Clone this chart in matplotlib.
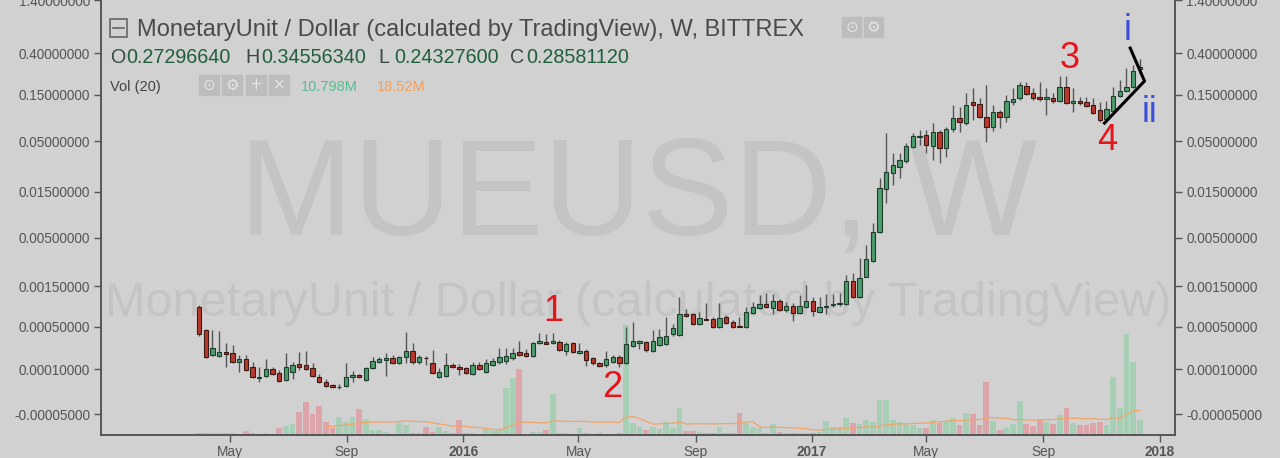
import numpy as np
import pandas as pd
import matplotlib
matplotlib.use('Agg')
import matplotlib.pyplot as plt
import matplotlib.dates as mdates
from matplotlib.patches import Rectangle
from matplotlib.ticker import NullLocator

# Weekly MUE/USD candles (Bittrex), first week starting 2015-03-30
first_week = '2015-03-30'

opens = [
    .000868, .000450, .000192, .000184, .000215, .000207, .000143, .000163, .000112, .000057,
    .000066, .000101, .000080, .000048, .000085, .000130, .000124, .000107, .000061, .000040,
    .000028, .000020, .000025, .000061, .000071, .000048, .000107, .000143, .000156, .000170,
    .000136, .000177, .000223, .000143, .000172, .000136, .000061, .000066, .000124, .000112,
    .000107, .000075, .000124, .000085, .000124, .000143, .000149, .000170, .000215, .000207,
    .000184, .000297, .000307, .000297, .000307, .000223, .000297, .000207, .000223, .000170,
    .000136, .000124, .000143, .000177, .000136, .000268, .000297, .000307, .000223, .000277,
    .000287, .000398, .000385, .000716, .000716, .000538, .000631, .000622, .000492, .000658,
    .000570, .000515, .000492, .000736, .000845, .000941, .000845, .001020, .000800, .000892,
    .000736, .000868, .001020, .000757, .000880, .000928, .000954, .000941, .001713, .001134,
    .001896, .002826, .005725, .01603, .02344, .02703, .03116, .04341, .05502, .05767,
    .04445, .0619, .0424, .06645, .0863, .0766, .1259, .1200, .0884, .0698,
    .0994, .0884, .1259, .1384, .1836, .1557, .1417, .1351, .1384, .1289,
    .1794, .1229, .1289, .1259, .1172, .1042, .0843, .1018, .1451, .1632,
    .1794, .2729664,
]
highs = [
    .000916, .000460, .000450, .000436, .000297, .000277, .000192, .000192, .000143, .000112,
    .000163, .000112, .000096, .000207, .000143, .000215, .000223, .000136, .000075, .000053,
    .000032, .000032, .000136, .000090, .000075, .000112, .000177, .000177, .000207, .000192,
    .000184, .000423, .000297, .000192, .000184, .000232, .000107, .000207, .000136, .000130,
    .000112, .000143, .000143, .000163, .000170, .000249, .000249, .000249, .000317, .000240,
    .000307, .000410, .000398, .000410, .000328, .000307, .000307, .000297, .000240, .000177,
    .000143, .000223, .000192, .000192, .000492, .000570, .000328, .000317, .000450, .000464,
    .000658, .000538, .001134, .000822, .000736, .000757, .000967, .000658, .000967, .000696,
    .000604, .000658, .000868, .000993, .001195, .001259, .001227, .001076, .000993, .000967,
    .001195, .001547, .001134, .001134, .001227, .001227, .001259, .001993, .002096, .003043,
    .004182, .007110, .02082, .0605, .03766, .03766, .04772, .06047, .0649, .0649,
    .07657, .0649, .06967, .1172, .1118, .1557, .1752, .1384, .188, .1172,
    .1042, .1485, .1752, .2018, .2018, .1752, .2018, .1752, .1557, .2325,
    .2325, .1752, .1417, .1417, .1384, .1259, .1289, .1794, .2115, .2808,
    .30, .3455634,
]
lows = [
    .000373, .000170, .000184, .000177, .000112, .000136, .000085, .000090, .000057, .000040,
    .000061, .000071, .000040, .000044, .000053, .000096, .000096, .000061, .000036, .000021,
    .000018, .000014, .000021, .000040, .000057, .000044, .000101, .000136, .000066, .000130,
    .000130, .000136, .000130, .000130, .000124, .000075, .000059, .000061, .000107, .000071,
    .000075, .000071, .000096, .000080, .000118, .000130, .000130, .000156, .000184, .000177,
    .000177, .000287, .000285, .000287, .000223, .000192, .000207, .000199, .000118, .000124,
    .000112, .000112, .000136, .000112, .000130, .000258, .000240, .000215, .000215, .000268,
    .000277, .000373, .000373, .000658, .000522, .000522, .000604, .000478, .000478, .000538,
    .000478, .000492, .000478, .000716, .000822, .000845, .000716, .000778, .000757, .000587,
    .000716, .000845, .000677, .000736, .000716, .000868, .000892, .000916, .001105, .001105,
    .001880, .002757, .00559, .01148, .01763, .02082, .02972, .0424, .04551, .03766,
    .03191, .02972, .03426, .0619, .0619, .0731, .0823, .0863, .0489, .0635,
    .0682, .0785, .1172, .132, .1485, .132, .1289, .0926, .1229, .1259,
    .1200, .0994, .1172, .1118, .0948, .0785, .0804, .0994, .1417, .1594,
    .1752, .243276,
]
closes = [
    .000398, .000177, .000249, .000215, .000199, .000143, .000163, .000096, .000061, .000061,
    .000101, .000075, .000044, .000112, .000124, .000112, .000101, .000066, .000040, .000025,
    .000021, .000023, .000061, .000071, .000061, .000107, .000149, .000163, .000170, .000136,
    .000177, .000223, .000143, .000177, .000168, .000080, .000085, .000124, .000112, .000101,
    .000080, .000124, .000101, .000136, .000149, .000177, .000184, .000207, .000192, .000184,
    .000297, .000317, .000290, .000317, .000232, .000287, .000215, .000223, .000156, .000136,
    .000118, .000163, .000177, .000136, .000287, .000317, .000317, .000232, .000317, .000362,
    .000373, .000478, .000716, .000677, .000538, .000640, .000613, .000492, .000640, .000554,
    .000492, .000500, .000757, .000868, .000941, .000868, .001020, .000800, .000892, .000736,
    .000892, .001020, .000778, .000868, .000904, .000954, .000967, .001713, .001134, .001848,
    .002969, .005725, .01642, .02401, .02834, .03191, .04445, .05633, .05633, .04551,
    .0619, .0424, .06645, .0863, .0785, .1172, .1172, .0884, .0698, .0994,
    .0884, .1289, .1351, .188, .1521, .1384, .1351, .1417, .1289, .1794,
    .1229, .1289, .1229, .1145, .0971, .0823, .1067, .1451, .1632, .1794,
    .2615, .2858112,
]
# weekly volume, millions
volumes = [
    1.5, 1.5, 1.5, 1.5, 1.5, 1.5, 0.7, 2.9, 1.1, 0.4,
    1.5, 0.7, 5.1, 6.6, 8.0, 16.8, 24.1, 15.3, 21.2, 9.5,
    5.1, 13.1, 9.5, 13.1, 19.0, 11.7, 3.7, 3.7, 2.2, 0.7,
    8.8, 7.3, 1.5, 1.5, 5.8, 2.2, 5.8, 2.9, 1.5, 11.0,
    1.5, 1.5, 0.7, 4.4, 2.9, 3.7, 34.3, 41.6, 48.2, 0.7,
    2.2, 2.2, 3.7, 29.9, 1.5, 1.5, 0.7, 5.1, 1.5, 0.7,
    1.5, 0.7, 0.7, 1.5, 80.3, 8.8, 5.8, 3.7, 5.8, 4.4,
    9.5, 5.1, 19.7, 2.9, 2.9, 2.2, 1.5, 1.5, 5.8, 1.5,
    1.5, 16.1, 8.8, 5.8, 5.1, 1.5, 8.0, 2.2, 1.5, 1.5,
    1.5, 1.5, 1.5, 2.2, 10.2, 5.8, 5.8, 12.4, 8.8, 8.0,
    11.0, 9.5, 25.6, 25.6, 11.0, 9.5, 8.0, 7.3, 5.1, 5.1,
    11.0, 8.8, 9.5, 12.4, 7.3, 16.1, 15.3, 7.3, 38.7, 10.2,
    3.7, 5.1, 8.0, 24.5, 8.0, 6.6, 11.0, 9.5, 8.0, 14.6,
    19.7, 8.8, 7.3, 7.3, 8.8, 9.5, 7.3, 42.0, 19.7, 74.0,
    53.0, 10.798,
]

ytick_values = [1.4, 0.4, 0.15, 0.05, 0.015, 0.005, 0.0015, 0.0005, 0.0001, -0.00005]
xtick_dates = ['2015-05-01', '2015-09-01', '2016-01-01', '2016-05-01', '2016-09-01',
               '2017-01-01', '2017-05-01', '2017-09-01', '2018-01-01']
xtick_labels = ['May', 'Sep', '2016', 'May', 'Sep', '2017', 'May', 'Sep', '2018']

# Elliott wave labels drawn on the chart
wave_labels = ['1', '2', '3', '4', 'i', 'ii']
wave_dates = ['2016-04-05', '2016-06-06', '2017-09-28', '2017-11-07', '2017-11-28', '2017-12-21']
wave_prices = [0.00078, 0.000018, 0.355, 0.0513, 0.688, 0.0994]
wave_colors = ['#e8141c', '#e8141c', '#e8141c', '#e8141c', '#3b4fd8', '#3b4fd8']
wave_line_dates = ['2017-11-04', '2017-12-16', '2017-12-01']
wave_line_prices = [0.0766, 0.2065, 0.45]

BG = '#d1d1d1'
plt.rcParams['font.family'] = ['Liberation Sans', 'DejaVu Sans']

OFFSET = 0.00013  # shifted log scale, lets the -0.00005 label exist


def fwd(v):
    return np.log10(np.maximum(np.asarray(v, dtype=float) + OFFSET, 1e-9))


def inv(v):
    return 10.0 ** np.asarray(v, dtype=float) - OFFSET


o = np.array(opens)
h = np.array(highs)
l = np.array(lows)
c = np.array(closes)
vol = np.array(volumes)
dates = mdates.date2num(pd.date_range(first_week, periods=len(c), freq='7D'))
up = c >= o
vol_ma = pd.Series(vol).rolling(20).mean()

fig = plt.figure(figsize=(12.8, 4.58), dpi=100, facecolor=BG)
rect = [101 / 1280, 23 / 458, 1074 / 1280, 435 / 458]
ax_vol = fig.add_axes(rect)
ax = fig.add_axes(rect, sharex=ax_vol)
ax_vol.set_facecolor(BG)
ax.set_facecolor('none')

# watermark
ax_vol.text(0.5, 0.46, 'MUEUSD, W', transform=ax_vol.transAxes, ha='center',
            va='baseline', fontsize=98.6, color='#c4c4c4', zorder=0)
ax_vol.text(0.5, 0.274, 'MonetaryUnit / Dollar (calculated by TradingView)',
            transform=ax_vol.transAxes, ha='center', va='baseline', fontsize=35,
            color='#c4c4c4', zorder=0)

# volume + 20 week average
ax_vol.bar(dates, vol, width=6.0, color=np.where(up, '#a6cfb6', '#dca5a9'), lw=0, zorder=1)
ax_vol.plot(dates, vol_ma, color='#f2a468', lw=0.9, zorder=2)
ax_vol.set_ylim(0, 317.6)
ax_vol.tick_params(left=False, labelleft=False, bottom=False, labelbottom=False)
for s in ax_vol.spines.values():
    s.set_visible(False)

# candles
ax.set_yscale('function', functions=(fwd, inv))
ax.vlines(dates, l, h, color='#555555', lw=1, zorder=2)
ax.bar(dates, np.abs(c - o), bottom=np.minimum(o, c), width=4.6,
       color=np.where(up, '#4c9c6c', '#b8392c'),
       edgecolor=np.where(up, '#1f3d2c', '#3b1a16'), lw=0.8, zorder=3)

# wave count
ax.plot(mdates.date2num(pd.to_datetime(wave_line_dates)), wave_line_prices,
        color='black', lw=2.2, zorder=4)
for lab, d, p, col in zip(wave_labels, wave_dates, wave_prices, wave_colors):
    ax.text(mdates.date2num(pd.Timestamp(d)), p, lab, color=col, fontsize=26,
            ha='center', va='center', zorder=5)

ax.set_ylim(-0.0000812, 1.40)
ax.set_yticks(ytick_values)
ax.set_yticklabels(['%.8f' % v for v in ytick_values])
ax.yaxis.set_minor_locator(NullLocator())
ax.set_xlim(mdates.date2num(pd.Timestamp('2014-12-17')), mdates.date2num(pd.Timestamp('2018-01-17')))
ax.set_xticks(mdates.date2num(pd.to_datetime(xtick_dates)))
ax.set_xticklabels(xtick_labels)
for t in ax.get_xticklabels():
    if t.get_text().isdigit():
        t.set_fontweight('bold')

ax.tick_params(axis='y', left=True, right=True, labelleft=True, labelright=True,
               direction='out', length=5, width=1, color='#555555',
               labelcolor='#555555', labelsize=9.8, pad=3)
ax.tick_params(axis='x', direction='out', length=5, width=1, color='#555555',
               labelcolor='#555555', labelsize=9.8, pad=2)
ax.spines['top'].set_visible(False)
for side in ['left', 'right', 'bottom']:
    ax.spines[side].set_color('#555555')
    ax.spines[side].set_linewidth(1.4)


def fx(px):
    return px / 1280


def fy(py):
    return 1 - py / 458


# header
fig.patches.append(Rectangle((fx(110), fy(37)), 17 / 1280, 18 / 458, transform=fig.transFigure,
                             fill=False, edgecolor='#666666', lw=1.2))
fig.lines.append(plt.Line2D([fx(113), fx(124)], [fy(28), fy(28)], transform=fig.transFigure,
                            color='#666666', lw=1.2))
fig.text(fx(137), fy(36), 'MonetaryUnit / Dollar (calculated by TradingView), W, BITTREX',
         fontsize=17, color='#4a4a4a', va='baseline')
for x0, glyph in [(842, '\u2299'), (864, '\u2699')]:
    fig.patches.append(Rectangle((fx(x0), fy(37)), 19 / 1280, 20 / 458, transform=fig.transFigure,
                                 color='#bdbdbd'))
    fig.text(fx(x0 + 9.5), fy(27), glyph, ha='center', va='center', fontsize=11,
             color='#e6e6e6', family=['DejaVu Sans'])

ohlc = [(110, 'O', '0.27296640'), (245, 'H', '0.34556340'),
        (378, 'L', '0.24327600'), (510, 'C', '0.28581120')]
for x0, key, val in ohlc:
    fig.text(fx(x0), fy(63), key, fontsize=14.2, color='#3b4a41', va='baseline')
    fig.text(fx(x0 + 16), fy(63), val, fontsize=14.2, color='#1f5f3c', va='baseline')

fig.text(fx(110), fy(91), 'Vol (20)', fontsize=10.5, color='#444444', va='baseline')
for x0, glyph in [(199, '\u2299'), (222, '\u2699'), (246, '+'), (269, '\u00d7')]:
    fig.patches.append(Rectangle((fx(x0), fy(95)), 20 / 1280, 20 / 458, transform=fig.transFigure,
                                 color='#bdbdbd'))
    fig.text(fx(x0 + 10), fy(85), glyph, ha='center', va='center', fontsize=11,
             color='#e6e6e6', family=['DejaVu Sans'])
fig.text(fx(301), fy(91), '10.798M', fontsize=10.5, color='#5cbb8e', va='baseline')
fig.text(fx(377), fy(91), '18.52M', fontsize=10.5, color='#f5a05a', va='baseline')

fig.savefig('out.png', dpi=100, facecolor=BG)
